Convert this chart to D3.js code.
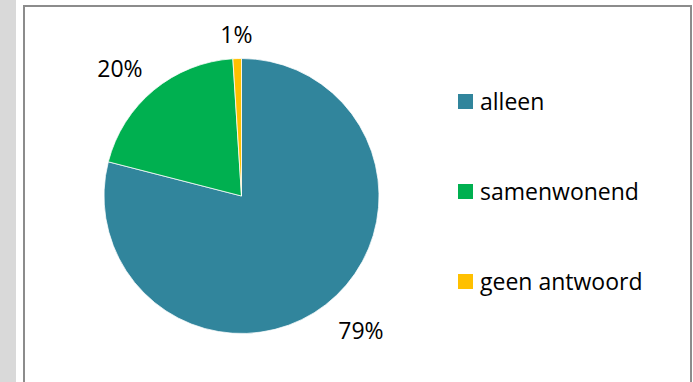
<!DOCTYPE html>
<html>
<head>
<meta charset="utf-8">
<script src="https://cdn.jsdelivr.net/npm/d3@7"></script>
<style>
  html, body { margin: 0; padding: 0; background: #fff; }
  svg { display: block; }
</style>
</head>
<body>
<svg id="chart" width="693" height="382"></svg>
<script>
const categories = ["alleen", "samenwonend", "geen antwoord"];
const values = [79, 20, 1];
const labels = ["79%", "20%", "1%"];
const colors = ["#31859C", "#00B050", "#FFC000"];

const svg = d3.select("#chart");
const W = 693, H = 382;

// left gray strip
svg.append("rect").attr("x", 0).attr("y", 0).attr("width", 16).attr("height", H).attr("fill", "#D9D9D9");
// chart frame
svg.append("rect").attr("x", 24).attr("y", 6).attr("width", 667).attr("height", H + 20)
  .attr("fill", "#fff").attr("stroke", "#8C8C8C").attr("stroke-width", 2);

const cx = 241.5, cy = 196, r = 137.5;
const pie = d3.pie().sort(null).value(d => d)(values);
const arc = d3.arc().innerRadius(0).outerRadius(r);

const g = svg.append("g").attr("transform", `translate(${cx},${cy})`);
g.selectAll("path").data(pie).join("path")
  .attr("d", arc)
  .attr("fill", (d, i) => colors[i])
  .attr("stroke", "#fff").attr("stroke-width", 0.75);

// data labels outside (best-fit style nudges, layout only)
const labelArc = d3.arc().innerRadius(r + 24).outerRadius(r + 24);
const labelNudge = [[20.5, 6.6], [-18.6, -3.1], [0, -0.8]];
g.selectAll("text.lbl").data(pie).join("text")
  .attr("class", "lbl")
  .attr("x", (d, i) => labelArc.centroid(d)[0] + labelNudge[i][0])
  .attr("y", (d, i) => labelArc.centroid(d)[1] + labelNudge[i][1])
  .attr("text-anchor", "middle")
  .attr("dominant-baseline", "central")
  .attr("font-family", "Open Sans")
  .attr("font-size", 23)
  .attr("fill", "#000")
  .text((d, i) => labels[i]);

// legend
const legendY = d3.scalePoint().domain(categories).range([101.5, 281.5]);
const lg = svg.append("g");
categories.forEach((c, i) => {
  const y = legendY(c);
  lg.append("rect").attr("x", 458).attr("y", y - 7.5).attr("width", 15).attr("height", 15).attr("fill", colors[i]);
  lg.append("text").attr("x", 480).attr("y", y + 8)
    .attr("font-family", "Open Sans").attr("font-size", 23).attr("fill", "#000")
    .text(c);
});
</script>
</body>
</html>
